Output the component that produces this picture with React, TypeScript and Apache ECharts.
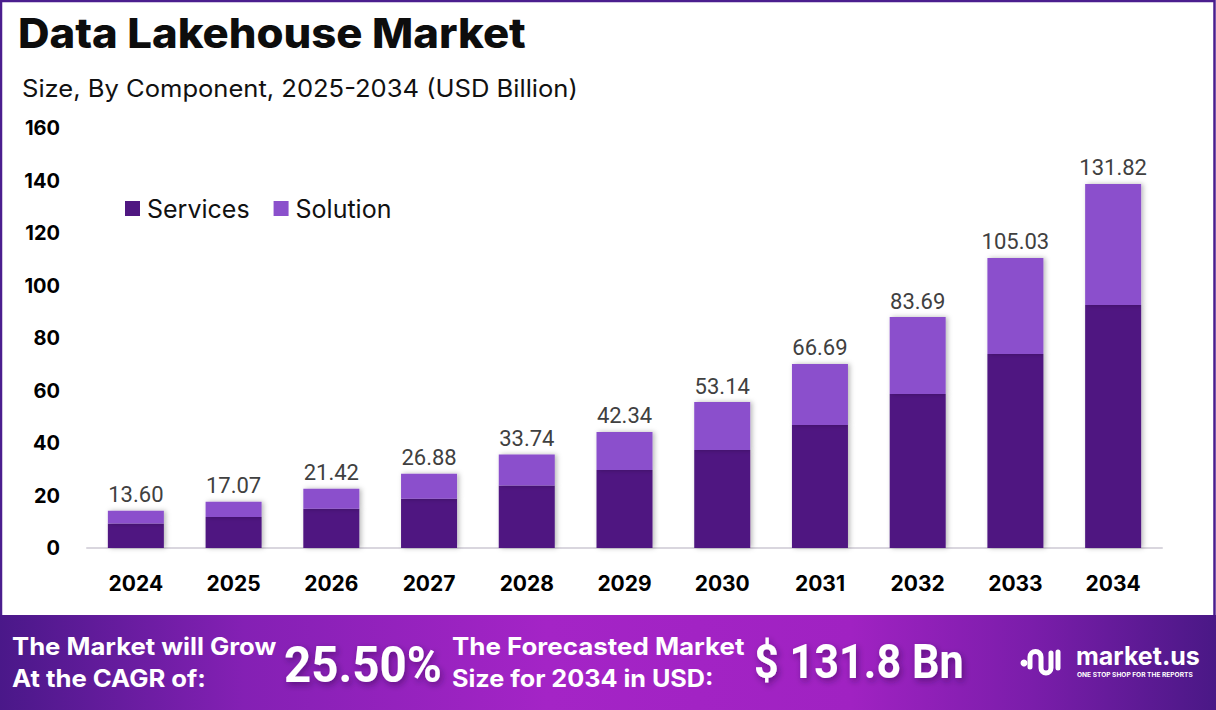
import React, { useEffect, useRef } from "react";
import * as echarts from "echarts";

const years = ["2024", "2025", "2026", "2027", "2028", "2029", "2030", "2031", "2032", "2033", "2034"];
const services = [9.3, 11.8, 15.0, 18.8, 23.8, 29.7, 37.3, 46.9, 58.7, 73.9, 92.6];
const solution = [4.9, 5.8, 7.6, 9.5, 11.8, 14.5, 18.3, 23.2, 29.3, 36.6, 46.1];
const totalLabels = ["13.60", "17.07", "21.42", "26.88", "33.74", "42.34", "53.14", "66.69", "83.69", "105.03", "131.82"];
const yTicks = { min: 0, max: 160, interval: 20 };

const SANS = "Inter, 'Noto Sans', sans-serif";

export default function App() {
  const ref = useRef<HTMLDivElement>(null);
  useEffect(() => {
    document.body.style.margin = "0";
    if (!ref.current) return;
    try {
      echarts.graphic.registerShape(
        "logo",
        echarts.graphic.extendPath(
          "M 12 27 L 12 17 A 5.5 5.5 0 0 1 23 17 L 23 28 A 5 5 0 0 0 33 28 L 33 13 M 40 12 L 40 28",
          {}
        )
      );
    } catch (e) {}
    const chart = echarts.init(ref.current, null, { renderer: "svg" });
    const shadow = {
      textShadowBlur: 6,
      textShadowColor: "rgba(40,0,60,0.45)",
      textShadowOffsetX: 2,
      textShadowOffsetY: 3,
    };
    const footText = (text: string, x: number, y: number, sx: number) => ({
      type: "text",
      x,
      y,
      scaleX: sx,
      style: { text, fontFamily: SANS, fontWeight: "bold", fontSize: 24, fill: "#fff", verticalAlign: "middle" },
    });
    chart.setOption({
      animation: false,
      backgroundColor: "#ffffff",
      legend: {
        data: ["Services", "Solution"],
        left: 120,
        top: 191,
        icon: "rect",
        itemWidth: 15,
        itemHeight: 15,
        itemGap: 24,
        textStyle: { fontFamily: SANS, fontSize: 25, color: "#111", padding: [0, 0, 0, 2] },
      },
      grid: { left: 87, right: 54, top: 128, bottom: 162 },
      xAxis: {
        type: "category",
        data: years,
        axisLine: { lineStyle: { color: "#D9D6DE", width: 2 } },
        axisTick: { show: false },
        axisLabel: { fontFamily: SANS, fontWeight: "bold", fontSize: 21, color: "#000", margin: 25 },
      },
      yAxis: {
        type: "value",
        min: yTicks.min,
        max: yTicks.max,
        interval: yTicks.interval,
        splitLine: { show: false },
        axisLine: { show: false },
        axisTick: { show: false },
        axisLabel: { fontFamily: SANS, fontWeight: "bold", fontSize: 20, color: "#000", margin: 27 },
      },
      series: [
        {
          name: "Services",
          type: "bar",
          stack: "total",
          barWidth: 56,
          data: services,
          itemStyle: {
            color: "#4F1781",
            shadowBlur: 5,
            shadowColor: "rgba(0,0,0,0.28)",
            shadowOffsetX: 2,
          },
        },
        {
          name: "Solution",
          type: "bar",
          stack: "total",
          barWidth: 56,
          data: solution,
          itemStyle: {
            color: "#8B50CC",
            shadowBlur: 5,
            shadowColor: "rgba(0,0,0,0.28)",
            shadowOffsetX: 2,
          },
          label: {
            show: true,
            position: "top",
            distance: 5,
            formatter: (p: any) => totalLabels[p.dataIndex],
            fontFamily: "Roboto, sans-serif",
            fontSize: 22,
            color: "#404040",
          },
        },
      ],
      graphic: [
        {
          type: "rect",
          shape: { x: 1, y: 1, width: 1213.5, height: 708 },
          style: { fill: "none", stroke: "#4B1E8E", lineWidth: 2.5 },
          silent: true,
        },
        {
          type: "text",
          x: 18,
          y: 33,
          scaleX: 1.065,
          style: {
            text: "Data Lakehouse Market",
            fontFamily: SANS,
            fontWeight: 800,
            fontSize: 41,
            fill: "#0d0d0d",
            verticalAlign: "middle",
          },
        },
        {
          type: "text",
          x: 22,
          y: 88,
          scaleX: 1.065,
          style: {
            text: "Size, By Component, 2025-2034 (USD Billion)",
            fontFamily: SANS,
            fontSize: 24,
            fill: "#111",
            verticalAlign: "middle",
          },
        },
        {
          type: "rect",
          shape: { x: 0, y: 615, width: 1216, height: 95 },
          style: {
            fill: new echarts.graphic.LinearGradient(0, 0, 1, 0, [
              { offset: 0, color: "#4A1889" },
              { offset: 0.2, color: "#8420B4" },
              { offset: 0.45, color: "#A424C6" },
              { offset: 0.7, color: "#A022C2" },
              { offset: 0.85, color: "#7A1DAA" },
              { offset: 1, color: "#4A1886" },
            ]),
          },
          silent: true,
        },
        footText("The Market will Grow", 12, 646, 1.07),
        footText("At the CAGR of:", 12, 678, 1.07),
        {
          type: "text",
          x: 284,
          y: 665,
          scaleX: 0.95,
          style: { text: "25.50%", fontFamily: "Roboto, sans-serif", fontWeight: "bold", fontSize: 50, fill: "#fff", verticalAlign: "middle", ...shadow },
        },
        footText("The Forecasted Market", 452, 646, 1.08),
        footText("Size for 2034 in USD:", 452, 678, 1.05),
        {
          type: "text",
          x: 754,
          y: 662,
          scaleX: 0.9,
          style: { text: "$ 131.8 Bn", fontFamily: "Roboto, sans-serif", fontWeight: "bold", fontSize: 48, fill: "#fff", verticalAlign: "middle", ...shadow },
        },
        {
          type: "circle",
          shape: { cx: 1024, cy: 663, r: 3.5 },
          style: { fill: "#fff" },
        },
        {
          type: "logo",
          x: 1018,
          y: 640,
          style: { fill: "none", stroke: "#fff", lineWidth: 5, lineCap: "round" },
        },
        {
          type: "text",
          x: 1076,
          y: 656,
          style: { text: "market.us", fontFamily: SANS, fontWeight: "bold", fontSize: 25, fill: "#fff", verticalAlign: "middle" },
        },
        {
          type: "text",
          x: 1077,
          y: 675,
          style: { text: "ONE STOP SHOP FOR THE REPORTS", fontFamily: SANS, fontWeight: "bold", fontSize: 6.6, fill: "#fff", verticalAlign: "middle" },
        },
      ],
    });
    return () => chart.dispose();
  }, []);
  return <div ref={ref} style={{ width: 1216, height: 710 }} />;
}
